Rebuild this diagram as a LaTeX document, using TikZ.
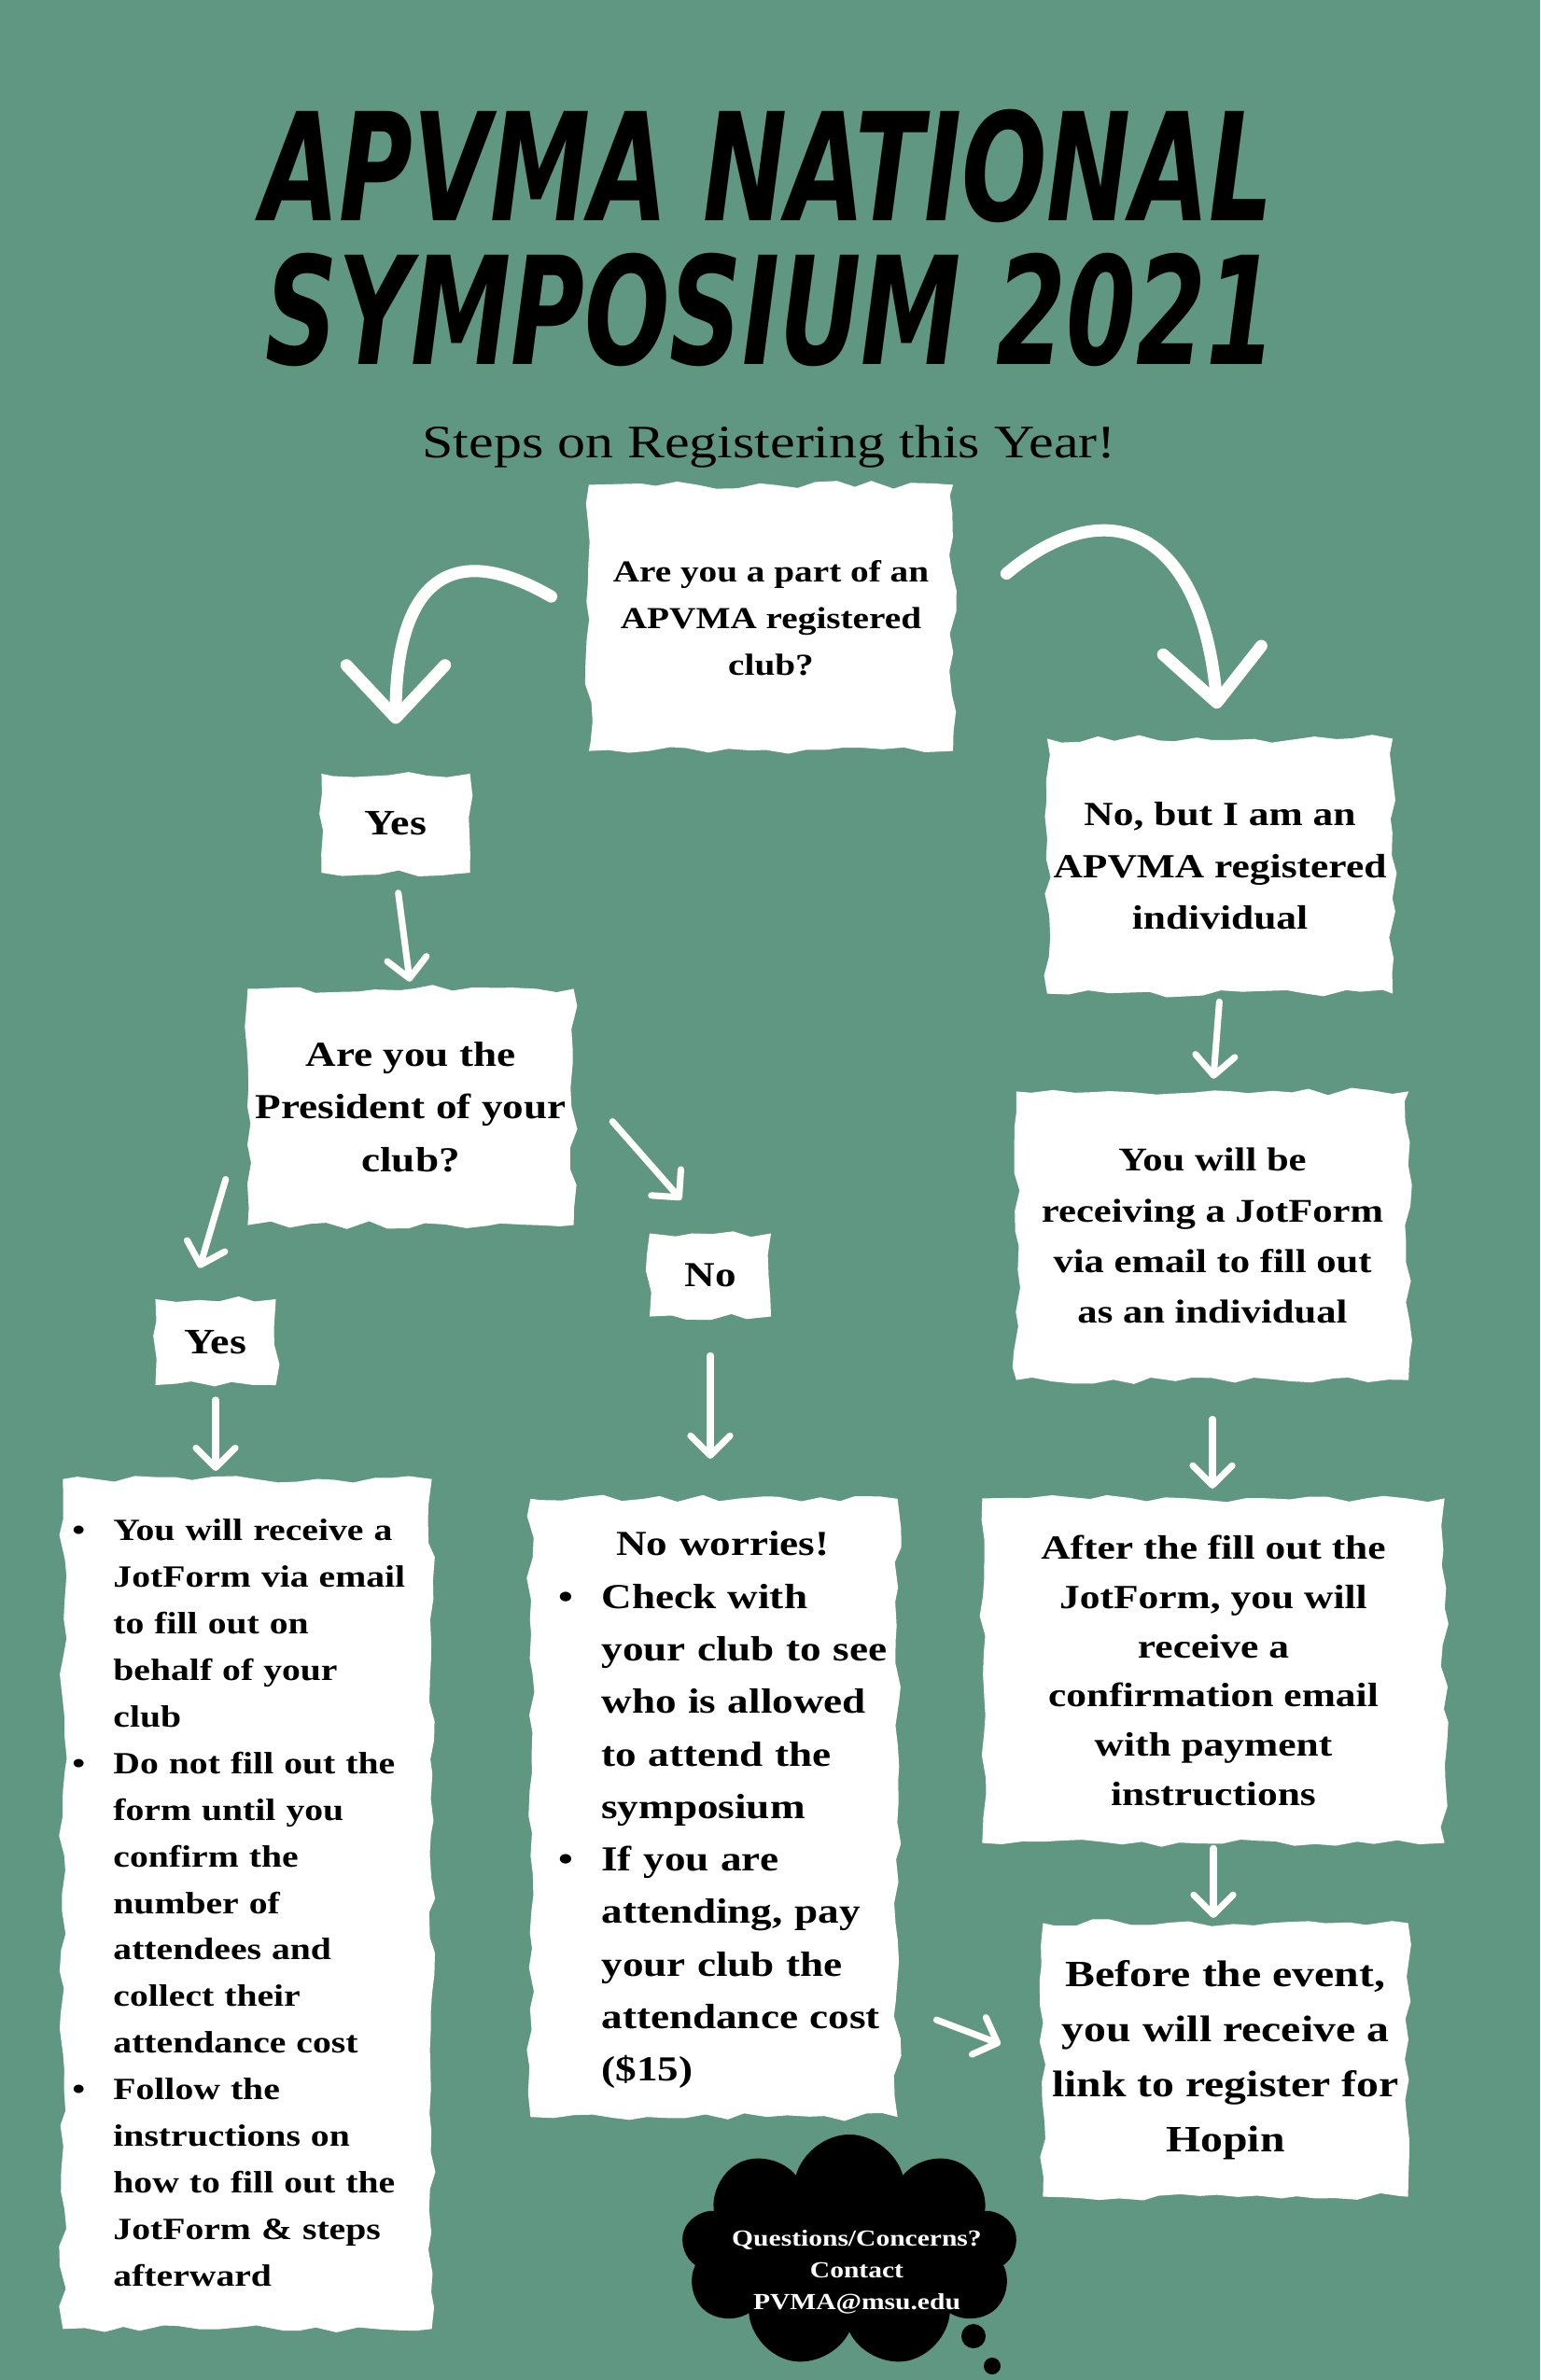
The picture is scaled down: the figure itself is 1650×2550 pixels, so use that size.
\documentclass[tikz,border=0pt]{standalone}
\usepackage{fontspec}
\setmainfont{Liberation Serif}
\newfontfamily\widefont{Liberation Serif}[FakeStretch=1.2]
\newfontfamily\titlefont{DejaVu Sans}[FakeStretch=0.67]
\usepackage{tikz}
\usetikzlibrary{arrows.meta,decorations.pathmorphing,shapes.symbols}

\definecolor{wallgreen}{RGB}{96,151,130}

\begin{document}
\begin{tikzpicture}[
    x=0.01cm, y=-0.01cm,
    paper/.style={fill=white, decorate,
        decoration={random steps, segment length=6pt, amplitude=1.2pt}, inner sep=0pt},
    sz/.style 2 args={font=\widefont\bfseries\fontsize{#1}{#2}\selectfont},
    flow/.style={white, line width=2pt, line cap=round,
        -{Straight Barb[length=6pt, width=12pt, round]}},
    swoop/.style={white, line width=3.7pt, line cap=round,
        -{Straight Barb[length=16pt, width=30pt, round]}}
]
\pgfmathsetseed{7}

% =========================================================================
% 0. WALL + TITLE
% =========================================================================
\useasboundingbox (0,0) rectangle (1650,2550);
\fill[wallgreen] (0,0) rectangle (1650,2550);

\node[font=\titlefont\bfseries\itshape\fontsize{45.7}{50}\selectfont, anchor=base]
    (title1) at (822,236) {APVMA NATIONAL};
\node[font=\titlefont\bfseries\itshape\fontsize{45.7}{50}\selectfont, anchor=base]
    (title2) at (826,390) {SYMPOSIUM 2021};
\node[font=\widefont\fontsize{14.2}{17}\selectfont, anchor=base]
    (subtitle) at (824,490) {Steps on Registering this Year!};

% =========================================================================
% 1. QUESTION: CLUB?
% =========================================================================
\node[paper, sz={9.3}{14.2}, align=center, minimum width=3.9cm, minimum height=2.85cm]
    (qclub) at (826,662) {Are you a part of an\\APVMA registered\\club?};

\node[paper, sz={10.9}{14}, minimum width=1.59cm, minimum height=1.06cm]
    (yesclub) at (424,882) {Yes};
\node[paper, sz={10.3}{15.8}, align=center, minimum width=3.7cm, minimum height=2.73cm]
    (noclub) at (1307,928) {No, but I am an\\APVMA registered\\individual};

% =========================================================================
% 2. LEFT BRANCH (club member)
% =========================================================================
\node[paper, sz={10.7}{16}, align=center, minimum width=3.49cm, minimum height=2.53cm]
    (qpres) at (440,1186) {Are you the\\President of your\\club?};

\node[paper, sz={10.9}{14}, minimum width=1.29cm, minimum height=0.92cm]
    (yespres) at (231,1438) {Yes};
\node[paper, sz={10.7}{14}, minimum width=1.3cm, minimum height=0.89cm]
    (nopres) at (761,1366) {No};

\node[paper, sz={9.4}{14.2}, align=left, text width=3.75cm,
      minimum width=3.95cm, minimum height=9.1cm] (yeslist) at (265,2040) {%
    \begin{tabular}{@{}p{4.4mm}@{}l@{}}
    \textbullet & You will receive a\\
                & JotForm via email\\
                & to fill out on\\
                & behalf of your\\
                & club\\
    \textbullet & Do not fill out the\\
                & form until you\\
                & confirm the\\
                & number of\\
                & attendees and\\
                & collect their\\
                & attendance cost\\
    \textbullet & Follow the\\
                & instructions on\\
                & how to fill out the\\
                & JotForm \& steps\\
                & afterward
    \end{tabular}};

\node[paper, sz={10.7}{16}, align=left, text width=3.33cm,
      minimum width=3.93cm, minimum height=6.62cm] (nolist) at (765,1937) {%
    \begin{tabular}{@{}p{4.6mm}@{}l@{}}
    \multicolumn{2}{c}{No worries!}\\
    \textbullet & Check with\\
                & your club to see\\
                & who is allowed\\
                & to attend the\\
                & symposium\\
    \textbullet & If you are\\
                & attending, pay\\
                & your club the\\
                & attendance cost\\
                & (\$15)
    \end{tabular}};

% =========================================================================
% 3. RIGHT BRANCH (individual)
% =========================================================================
\node[paper, sz={10.1}{15.4}, align=center, minimum width=4.2cm, minimum height=3.09cm]
    (jotform) at (1299,1324) {You will be\\receiving a JotForm\\via email to fill out\\as an individual};
\node[paper, sz={10.3}{15}, align=center, minimum width=4.95cm, minimum height=3.69cm]
    (confirm) at (1300,1790) {After the fill out the\\JotForm, you will\\receive a\\confirmation email\\with payment\\instructions};
\node[paper, sz={11.3}{16.8}, align=center, minimum width=3.91cm, minimum height=2.93cm]
    (hopin) at (1313,2207) {Before the event,\\you will receive a\\link to register for\\Hopin};

% Nube de contacto
\node[cloud, cloud puffs=9, cloud ignores aspect, fill=black, inner sep=0pt,
      minimum width=3.6cm, minimum height=2.5cm] (help) at (910,2412) {};
\node[sz={7}{9.7}, text=white, align=center]
    (helptext) at (918,2434) {Questions/Concerns?\\Contact\\PVMA@msu.edu};
\fill[black] (1043,2503) circle (1.3mm);
\fill[black] (1063,2535) circle (0.9mm);

% =========================================================================
% 4. ARROWS
% =========================================================================
\draw[swoop, shorten <=13pt, shorten >=15pt]
    (qclub.west) to[out=150, in=90, looseness=1.8] (yesclub.north);
\draw[swoop, shorten <=21pt, shorten >=9pt]
    (qclub.east) to[out=40, in=95, looseness=1.8] (noclub.north);

\draw[flow, shorten <=6pt, shorten >=2pt] (yesclub.south) -- (qpres.north);
\draw[flow, shorten <=23pt, shorten >=9.7pt] (qpres.west) -- (yespres.120);
\draw[flow, shorten <=17.6pt, shorten >=13.4pt] (qpres.10) -- (nopres.north);
\draw[flow, shorten <=4.3pt, shorten >=2.3pt] (yespres.south) -- (yespres.south |- yeslist.north);
\draw[flow, shorten <=11.7pt, shorten >=12pt] (nopres.south) -- (nopres.south |- nolist.north);
\draw[flow, shorten <=12.5pt, shorten >=13.6pt] (nolist.-47) -- (hopin.west);

\draw[flow, shorten <=2.3pt, shorten >=3.7pt] (noclub.south) -- (jotform.north);
\draw[flow, shorten <=11.7pt, shorten >=2.8pt] (jotform.south) -- (jotform.south |- confirm.north);
\draw[flow, shorten <=1.4pt, shorten >=1.4pt] (confirm.south) -- (confirm.south |- hopin.north);

\end{tikzpicture}
\end{document}
